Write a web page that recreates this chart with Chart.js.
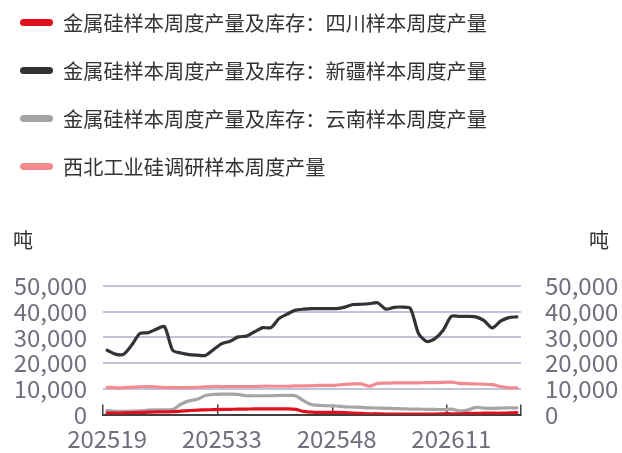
<!DOCTYPE html>
<html><head><meta charset="utf-8">
<script src="https://cdn.jsdelivr.net/npm/chart.js@4.4.1/dist/chart.umd.min.js"></script>
<style>
html,body{margin:0;padding:0;background:#fff;}
#wrap{position:relative;width:622px;height:453px;overflow:hidden;}
#c{position:absolute;left:0;top:0;}
.lg{position:absolute;left:20px;height:28px;display:flex;align-items:center;font:20.2px "Noto Sans CJK SC";color:#333333;white-space:nowrap;}
.lg i{display:inline-block;width:33px;height:7px;border-radius:3.5px;margin-right:10px;}
.unit{position:absolute;font:20px "Noto Sans CJK SC";color:#333333;line-height:28px;}
</style></head><body>
<div id="wrap">
<canvas id="c" width="622" height="453"></canvas>
<div id="legend"></div>
<div class="unit" style="left:13px;top:226px">吨</div>
<div class="unit" style="left:589px;top:226px">吨</div>
</div>
<script>
const weeks = ['202519','202520','202521','202522','202523','202524','202525','202526','202527','202528','202529','202530','202531','202532','202533','202534','202535','202536','202537','202538','202539','202541','202542','202543','202544','202545','202546','202547','202548','202549','202550','202551','202552','202601','202602','202603','202604','202605','202606','202607','202609','202610','202611','202612','202613','202614','202615','202616','202617','202618','202619'];
const seriesNames = ['金属硅样本周度产量及库存：四川样本周度产量','金属硅样本周度产量及库存：新疆样本周度产量','金属硅样本周度产量及库存：云南样本周度产量','西北工业硅调研样本周度产量'];
const sichuan = [600,500,600,700,800,900,1000,1000,1100,1300,1500,1700,1800,1900,2000,2000,2100,2100,2200,2200,2200,2200,2200,2000,1200,900,800,800,800,700,500,400,300,300,200,200,200,200,200,200,200,300,300,300,400,400,500,500,500,600,700];
const xinjiang = [25000,23500,23400,27000,31500,31800,33200,34200,25000,23900,23300,23100,23000,25300,27600,28500,30200,30500,32200,33800,33800,37400,39100,40600,41000,41200,41200,41200,41200,41800,42800,42900,43100,43500,41000,41700,41800,41300,31500,28400,29500,32800,38200,38200,38200,38000,36500,33700,36300,37700,38000];
const yunnan = [1500,1200,1200,1300,1400,1700,1800,1800,1900,4000,5300,5900,7400,7800,7900,7900,7800,7300,7300,7300,7300,7400,7400,7300,5300,3800,3500,3400,3300,3000,2900,2800,2600,2500,2400,2300,2200,2100,2100,2000,2000,1900,2100,1400,1700,2800,2500,2400,2500,2600,2600];
const northwest = [10600,10400,10400,10600,10800,10900,10700,10500,10500,10500,10500,10600,10800,10900,10900,10900,10900,10900,10900,11000,11000,11000,11000,11100,11100,11200,11300,11300,11400,11700,11900,11900,11000,12100,12200,12300,12300,12300,12300,12400,12400,12500,12600,12100,12000,11900,11800,11600,10900,10400,10400];
const yTicks = [0,10000,20000,30000,40000,50000];
const labelEvery = 14;

const colors = ['#e0101c','#333333','#a3a5a8','#f28a90'];
const values = [sichuan, xinjiang, yunnan, northwest];

const lg = document.getElementById('legend');
seriesNames.forEach((n,i)=>{
  const d = document.createElement('div');
  d.className='lg'; d.style.top = (8 + i*48) + 'px';
  d.innerHTML = '<i style="background:'+colors[i]+'"></i><span></span>';
  d.querySelector('span').textContent = n;
  lg.appendChild(d);
});

const fam = '"Noto Sans CJK SC", "Noto Sans", sans-serif';
const tickColor = '#6f6f7d';
const yTickOpts = {autoSkip:false, stepSize:10000, padding:16, color:tickColor, font:{family:fam,size:24},
  callback:(v)=> yTicks.includes(v) ? v.toLocaleString('en-US') : ''};

new Chart(document.getElementById('c'), {
  type:'line',
  data:{
    labels: weeks,
    datasets: values.map((arr,i)=>({
      label: seriesNames[i], data: arr, borderColor: colors[i], backgroundColor: colors[i],
      borderWidth: 3.2, pointRadius: 0, tension: 0.25, fill:false, borderCapStyle:'round', borderJoinStyle:'round',
      yAxisID: 'y'
    }))
  },
  options:{
    responsive:false, animation:false,
    layout:{padding:{top:286,left:0,right:0,bottom:0}},
    plugins:{legend:{display:false}, tooltip:{enabled:false}},
    scales:{
      x:{
        offset:true,
        grid:{offset:true, drawOnChartArea:false, drawTicks:true, tickLength:-10, lineWidth:1.5,
          color:(ctx)=> (ctx.index===undefined || ctx.index % labelEvery === 0) ? '#404040' : 'rgba(0,0,0,0)'},
        border:{display:true, color:'#404040', width:2},
        ticks:{autoSkip:false, maxRotation:0, minRotation:0, padding:20, color:tickColor, font:{family:fam,size:24},
          callback:(v,i)=> i % labelEvery === 0 ? weeks[i] : ''},
        afterFit:(s)=>{ s.height = 38.5; }
      },
      y:{
        position:'left', min:0, max:50000,
        ticks: yTickOpts,
        grid:{display:true, drawOnChartArea:true, drawTicks:false, lineWidth:2, color:'#bfc4da'},
        border:{display:false},
        afterFit:(s)=>{ s.width = 103; }
      },
      y1:{
        position:'right', min:0, max:50000,
        ticks: yTickOpts,
        grid:{display:false},
        border:{display:false},
        afterFit:(s)=>{ s.width = 101; }
      }
    }
  }
});
</script>
</body></html>
